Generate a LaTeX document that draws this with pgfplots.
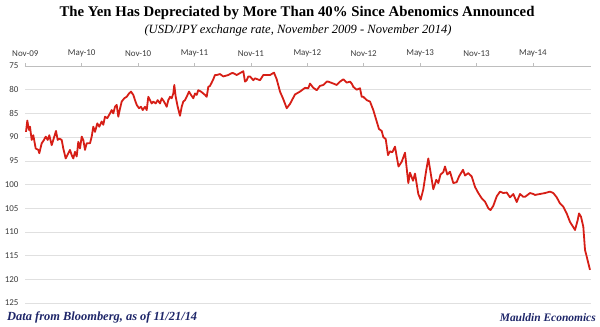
\documentclass[border=0pt]{standalone}
\usepackage{pgfplots}
\pgfplotsset{compat=1.18}
\usepackage{fontspec}
\setmainfont{Liberation Serif}
\newfontfamily\carlito{Carlito}
\definecolor{navy}{RGB}{30,38,105}
\definecolor{linered}{RGB}{214,30,22}
\definecolor{gridc}{RGB}{224,224,224}
\definecolor{lbl}{RGB}{60,60,60}
\pgfplotstableread{
px val
26 88.9
27.3 86.5
29 88.5
30 87.8
31.7 90.6
33.3 89.6
35.7 92.4
38.3 92.7
39.3 93.4
41.7 91.3
44 90.6
45.7 89.9
47.7 90.6
49.3 89.6
51.7 91.7
54.3 89.9
56 88.7
57.7 90.6
59.3 90.3
61.7 90.6
63.3 92.4
65.7 94.5
68.3 93.4
70 92.7
71.7 93.8
73.3 94.5
75 93.1
76.7 94.1
78.3 91.0
80 92.4
81.7 89.9
83.3 90.6
85 92.7
86.7 91.3
90 91.3
91.7 89.9
93.3 87.8
95 88.9
97.3 87.1
99.3 87.8
101.7 86.7
103.3 87.4
105 85.7
107.3 86.0
110 85.0
111.7 84.3
113.3 85.0
115 83.6
116.7 83.2
118.3 85.7
120 84.0
121.7 82.5
124.3 81.8
126.7 81.5
129 80.8
131 80.4
133.3 81.1
135 82.2
136.7 83.2
139 83.9
141 83.6
142.7 84.3
145 83.6
146.7 84.3
148.3 81.5
150 82.2
151.7 82.9
153.3 82.5
155.7 82.9
157.7 82.2
160 82.9
161.7 81.8
164 82.5
166.7 83.6
168.3 82.2
170 81.5
171.7 81.8
173.3 80.8
174.3 79.0
175.7 81.5
177.7 83.6
180 85.5
181.7 83.6
183.3 82.5
185 82.2
186.7 81.5
189 80.4
191 81.1
193.3 81.8
195 80.8
196.7 81.1
198.3 80.1
201 80.4
203.3 80.8
205 81.1
206.7 81.5
208.3 79.4
210 79.2
211.7 78.5
213.3 77.8
215 76.9
216.7 76.9
220 76.7
223.3 77.2
226.7 77.0
228.3 76.9
231.7 76.5
233.3 76.5
236.7 76.9
241.7 76.3
243.3 76.1
245 78.3
246.7 78.0
248.3 77.2
250 77.2
253.3 78.0
255 77.6
260 78.0
263.3 76.9
265 76.9
270 76.9
274 76.4
276.7 77.8
280 80.4
283.3 82.0
286.7 83.9
290 83.0
295 81.0
300 80.4
305 79.6
308.3 79.7
310 78.7
313.3 79.6
316.7 80.1
320 79.2
323.3 79.0
326.7 78.3
328.3 78.3
333.3 78.7
336.7 79.0
340 78.3
343.3 77.8
346.7 78.5
350 78.3
351.7 78.7
353.3 79.4
356.7 80.0
360 79.7
361.7 81.5
363.3 81.5
366.7 82.2
370 82.5
373.3 84.3
376.7 86.7
379 88.3
381.7 88.7
383.3 90.0
385.7 90.4
388 93.8
390 93.0
392.3 93.2
395 92.0
396.7 94.1
398.5 96.2
401.7 95.2
405 93.3
408.3 99.7
410 97.5
413 99.2
415 97.7
418.3 102.0
420.7 103.2
423.3 101.0
426.3 96.9
428.3 94.5
430.3 97.1
433.3 101.0
436.3 99.0
438.3 99.7
440.5 97.9
443.3 97.4
445 96.2
447.3 97.9
450 97.3
453.3 99.7
456.7 99.5
459 98.3
463 96.9
465 98.1
468.3 97.6
471.7 98.3
475 100.5
478.3 101.8
481.7 102.9
485 103.6
488.3 105.0
490.5 105.4
493.3 104.5
496.7 102.5
500 101.5
503.3 101.8
506.7 101.7
510 102.7
513.3 102.0
516.7 103.7
520 102.0
523.3 102.6
525 102.6
530 101.8
533.3 102.0
535 102.2
540 102.0
545 101.8
550 101.5
553.3 101.8
556.7 102.7
560 104.0
563.3 104.7
566.7 106.1
570 107.9
573.3 109.0
575 109.6
577.7 107.5
579 106.1
581 106.8
583.3 108.9
585 113.8
586.7 115.2
588.3 116.6
590 118.0
}\yen
\begin{document}
\begin{tikzpicture}
\useasboundingbox (0,0) rectangle (600bp,-327bp);
\node at (297bp,-13bp) {\resizebox{475bp}{!}{\bfseries The Yen Has Depreciated by More Than 40\% Since Abenomics Announced}};
\node at (298bp,-30bp) {\resizebox{307bp}{!}{\itshape (USD/JPY exchange rate, November 2009 - November 2014)}};
\node[anchor=west, text=navy, inner sep=0pt] at (7bp,-317bp) {\resizebox{190bp}{!}{\bfseries\itshape Data from Bloomberg, as of 11/21/14}};
\node[anchor=east, text=navy, inner sep=0pt] at (596bp,-318bp) {\resizebox{96bp}{!}{\bfseries\itshape Mauldin Economics}};
\begin{axis}[at={(25bp,-303bp)}, anchor=south west, scale only axis,
  width=566bp, height=237bp,
  xmin=25, xmax=591, ymin=75, ymax=125, y dir=reverse,
  axis x line*=top, axis y line*=left,
  x axis line style={draw=gridc!85!black, line width=0.7bp, -},
  y axis line style={draw=none},
  ytick={75,80,...,125},
  xtick={25.3,81.7,138.1,194.5,250.9,307.3,363.7,420.1,476.5,532.9},
  xticklabels={Nov-09,May-10,Nov-10,May-11,Nov-11,May-12,Nov-12,May-13,Nov-13,May-14},
  /pgf/number format/assume math mode=true,
  ticklabel style={font=\carlito\fontsize{9}{9}\selectfont, text=lbl},
  xticklabel style={yshift=3bp},
  ytick style={draw=none},
  xtick style={draw=gridc!85!black, line width=0.7bp},
  tick align=outside, major tick length=3bp,
  ymajorgrids, grid style={draw=gridc, line width=0.6bp},
  clip=false,
]
\addplot[linered, line width=1.8bp, line join=round, no marks] table[x=px, y=val] {\yen};
\end{axis}
\end{tikzpicture}
\end{document}
